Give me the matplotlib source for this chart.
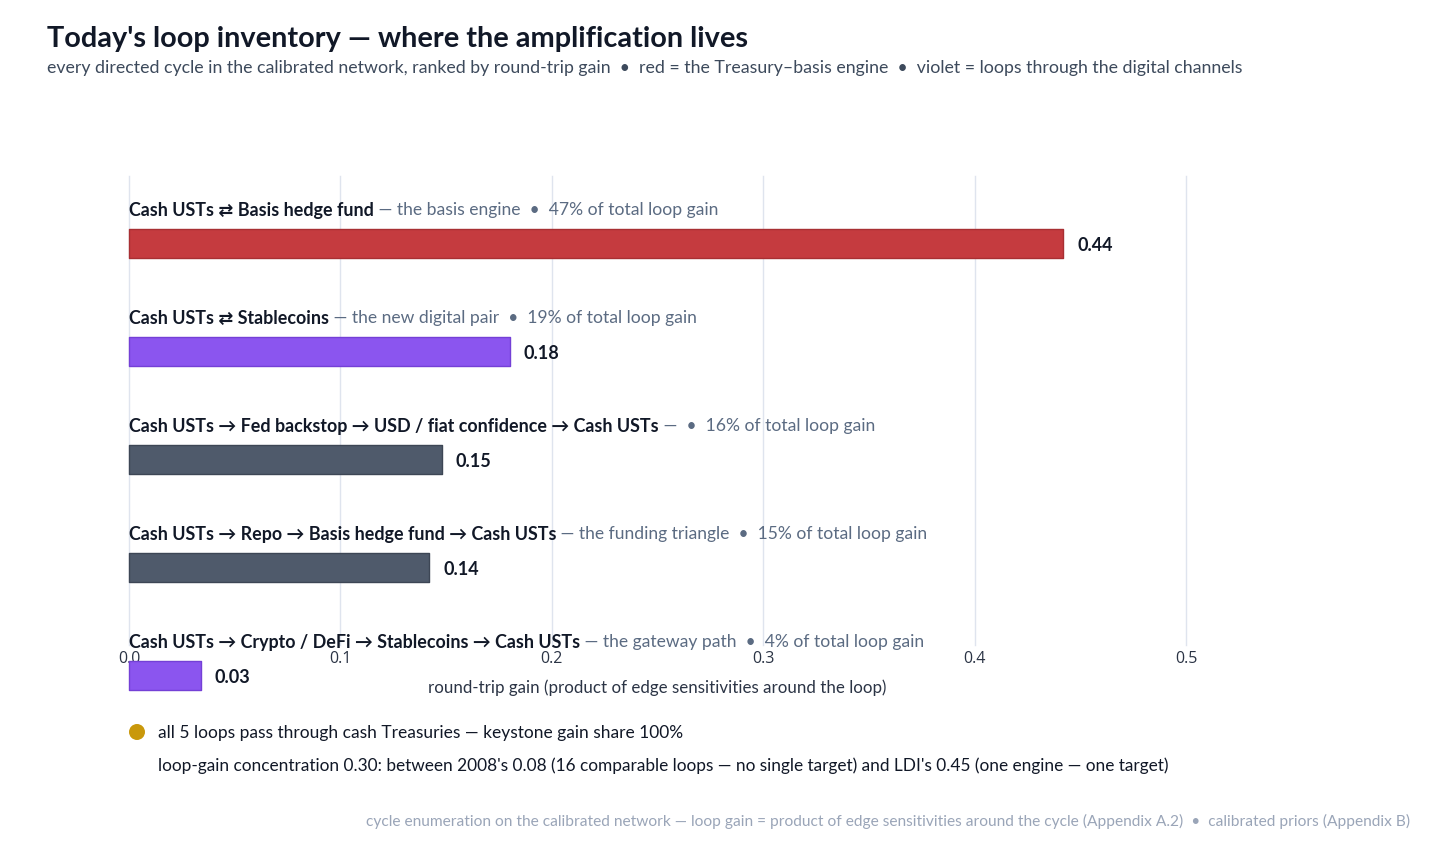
import matplotlib
matplotlib.use("Agg")
import matplotlib.pyplot as plt
from matplotlib import transforms
from matplotlib.patches import Circle

FONT = ["Lato", "DejaVu Sans"]
plt.rcParams['font.family'] = FONT

# ---- data ----
loop_names = [
    "Cash USTs \u21c4 Basis hedge fund",
    "Cash USTs \u21c4 Stablecoins",
    "Cash USTs \u2192 Fed backstop \u2192 USD / fiat confidence \u2192 Cash USTs",
    "Cash USTs \u2192 Repo \u2192 Basis hedge fund \u2192 Cash USTs",
    "Cash USTs \u2192 Crypto / DeFi \u2192 Stablecoins \u2192 Cash USTs",
]
loop_notes = [
    "the basis engine",
    "the new digital pair",
    "",
    "the funding triangle",
    "the gateway path",
]
gain_share = [47, 19, 16, 15, 4]
loop_gain = [0.442, 0.18, 0.148, 0.142, 0.034]
loop_kind = ["basis", "digital", "other", "other", "digital"]
x_ticks = [0.0, 0.1, 0.2, 0.3, 0.4, 0.5]

kind_color = {"basis": "#c53b3f", "digital": "#8b55ef", "other": "#4f5a6b"}
kind_edge = {"basis": "#a82f33", "digital": "#7440d6", "other": "#3d4655"}

BUL = "\u2022"

W, H = 1456, 846
fig = plt.figure(figsize=(W / 100, H / 100), dpi=100)
fig.patch.set_facecolor("white")

ax_l, ax_r, ax_t, ax_b = 129, 1186, 176, 645
ax = fig.add_axes([ax_l / W, 1 - ax_b / H, (ax_r - ax_l) / W, (ax_b - ax_t) / H])
ax.set_xlim(0, 0.5)
row_px = 108
first_c = 243.5
ax.set_ylim((ax_b - first_c) / row_px, -(first_c - ax_t) / row_px)

for s in ax.spines.values():
    s.set_visible(False)
ax.set_xticks(x_ticks)
ax.set_xticklabels([f"{v:.1f}" for v in x_ticks], fontsize=11.5, color="#2b3445",
                   family=["Open Sans", "DejaVu Sans"])
ax.tick_params(axis="x", length=0, pad=4)
ax.set_yticks([])
ax.grid(axis="x", color="#dfe4ee", linewidth=1)
for gl in ax.get_xgridlines():
    gl.set_clip_on(False)
ax.set_axisbelow(True)
ax.set_xlabel("round-trip gain (product of edge sensitivities around the loop)",
              fontsize=12.2, color="#2b3445", labelpad=9)

ypos = list(range(len(loop_gain)))
bars = ax.barh(ypos, loop_gain, height=29 / row_px,
               color=[kind_color[k] for k in loop_kind],
               edgecolor=[kind_edge[k] for k in loop_kind], linewidth=1,
               zorder=3, clip_on=False)
for b in bars:
    b.set_joinstyle("round")

fig.canvas.draw()
renderer = fig.canvas.get_renderer()
label_dy = 33.5 / row_px
for i, (name, note, share, g) in enumerate(zip(loop_names, loop_notes, gain_share, loop_gain)):
    y = i - label_dy
    t = ax.text(0, y, name, fontsize=12.9, fontweight="bold", color="#111827",
                va="center", ha="left", clip_on=False, zorder=5)
    w = t.get_window_extent(renderer).width
    if note:
        rest = f" \u2014 {note}  {BUL}  {share}% of total loop gain"
    else:
        rest = f" \u2014  {BUL}  {share}% of total loop gain"
    tr = transforms.offset_copy(ax.transData, fig=fig, x=w, y=0, units="dots")
    ax.text(0, y, rest, fontsize=12.6, color="#5b6b82", va="center", ha="left",
            transform=tr, clip_on=False, zorder=5)
    trv = transforms.offset_copy(ax.transData, fig=fig, x=14, y=-1.5, units="dots")
    ax.text(g, i, f"{g:.2f}", fontsize=13, fontweight="bold", color="#111827",
            va="center", ha="left", transform=trv, clip_on=False, zorder=5)

# title & subtitle
fig.text(47 / W, 1 - 39 / H, "Today's loop inventory \u2014 where the amplification lives",
         fontsize=20.8, fontweight="bold", color="#111827", va="center", ha="left")
fig.text(47 / W, 1 - 68.5 / H,
         f"every directed cycle in the calibrated network, ranked by round-trip gain  {BUL}  "
         f"red = the Treasury\u2013basis engine  {BUL}  violet = loops through the digital channels",
         fontsize=12.8, color="#3d4a5c", va="center", ha="left")

# keystone note
circ = Circle((137 / 100, (H - 732) / 100), 8 / 100, transform=fig.dpi_scale_trans,
              facecolor="#c9980b", edgecolor="none")
fig.patches.append(circ)
fig.text(158 / W, 1 - 733 / H,
         "all 5 loops pass through cash Treasuries \u2014 keystone gain share 100%",
         fontsize=12.5, color="#111827", va="center", ha="left")
fig.text(158 / W, 1 - 766 / H,
         "loop-gain concentration 0.30: between 2008's 0.08 (16 comparable loops \u2014 no single target) "
         "and LDI's 0.45 (one engine \u2014 one target)",
         fontsize=12.4, color="#111827", va="center", ha="left")

fig.text(1410 / W, 1 - 821.5 / H,
         "cycle enumeration on the calibrated network \u2014 loop gain = product of edge sensitivities "
         f"around the cycle (Appendix A.2)  {BUL}  calibrated priors (Appendix B)",
         fontsize=11.15, color="#9aa5b8", va="center", ha="right")

fig.savefig("out.png", dpi=100)
